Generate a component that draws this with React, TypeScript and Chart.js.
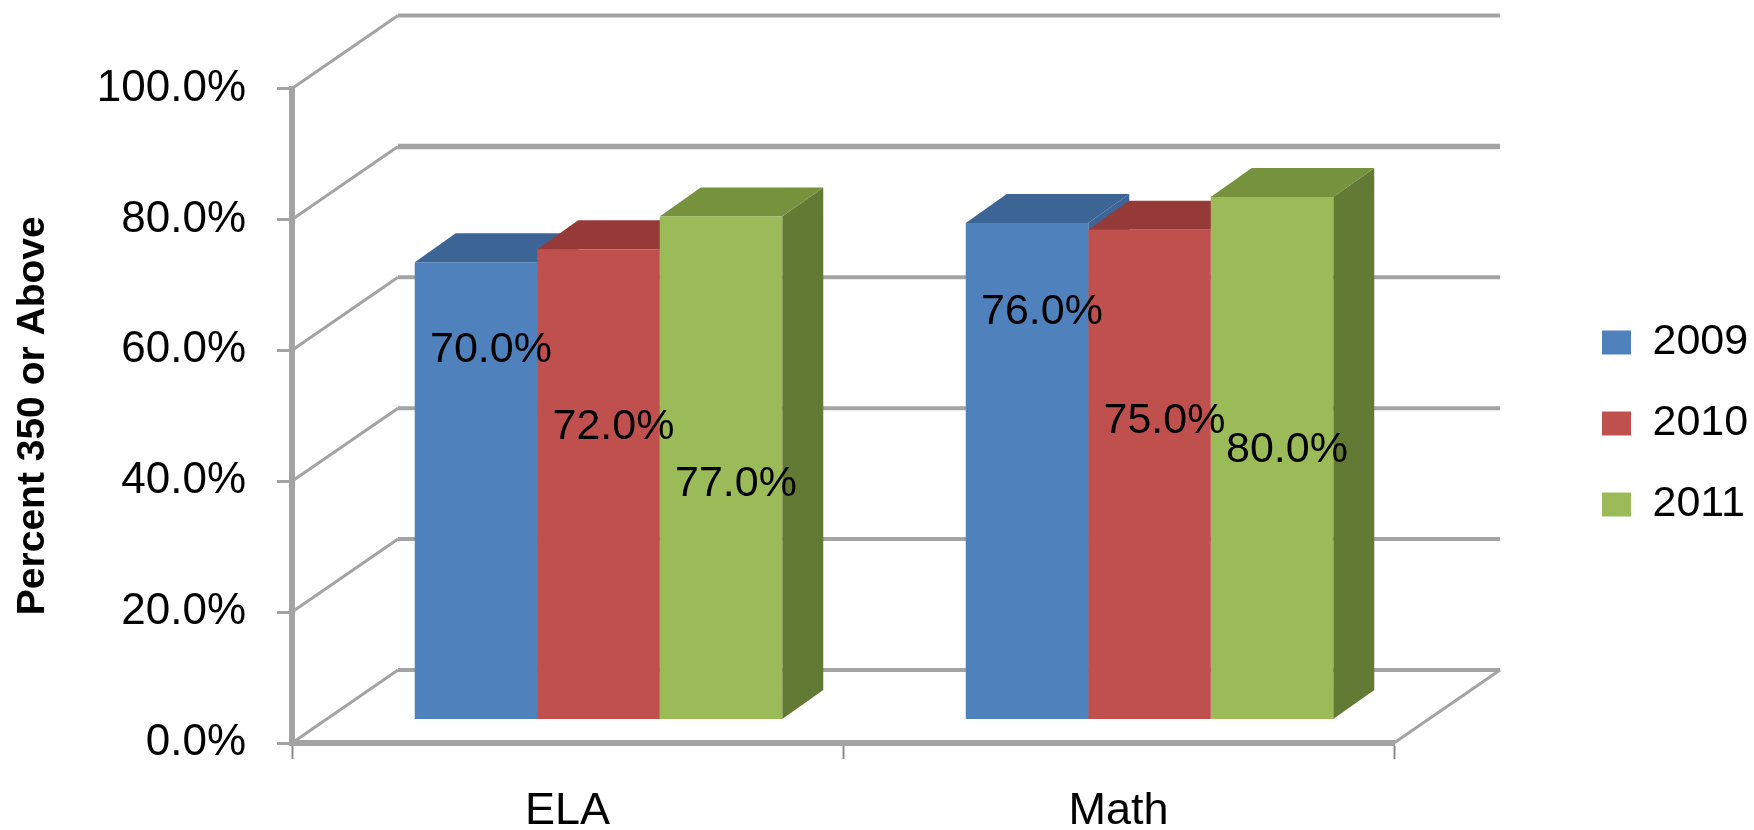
import React, { useEffect, useRef } from "react";
import { Chart, registerables } from "chart.js";

Chart.register(...registerables);

const categories = ["ELA", "Math"];
const seriesNames = ["2009", "2010", "2011"];
const values2009 = [70, 76];
const values2010 = [72, 75];
const values2011 = [77, 80];
const yTickStep = 20;

const FONT = "'Liberation Sans', Arial, sans-serif";
const GRID = "#a3a3a3";

const faceColors = [
  { top: "#3c6596", side: "#3c6596" },
  { top: "#963a38", side: "#963a38" },
  { top: "#76923c", side: "#637a35" },
];

const bar3d = {
  id: "bar3d",
  afterLayout(chart: any) {
    const o = chart.options.plugins.bar3d;
    const lg = chart.legend;
    if (lg) {
      lg.left = o.legendLeft;
      lg.right = chart.width;
      lg.width = lg.right - lg.left;
      lg.top = o.legendTop;
      lg.bottom = chart.height;
      lg.height = lg.bottom - lg.top;
    }
  },
  beforeDatasetsDraw(chart: any) {
    const o = chart.options.plugins.bar3d;
    const { ctx, scales, chartArea } = chart;
    const left = chartArea.left;
    const right = chartArea.right;
    const wallX = left + o.wallDx;
    const wallEnd = right + o.wallDx;

    // back wall and side wall gridlines, taken from the value axis ticks
    ctx.save();
    ctx.strokeStyle = GRID;
    ctx.lineCap = "butt";
    scales.y.ticks.forEach((t: any) => {
      const y = scales.y.getPixelForValue(t.value);
      ctx.lineWidth = 3;
      ctx.beginPath();
      ctx.moveTo(left, y);
      ctx.lineTo(wallX, y + o.wallDy);
      ctx.stroke();
      ctx.lineWidth = t.value === 80 ? 5.5 : 4;
      ctx.beginPath();
      ctx.moveTo(wallX, y + o.wallDy);
      ctx.lineTo(wallEnd, y + o.wallDy);
      ctx.stroke();
    });
    // floor edge
    const y0 = scales.y.getPixelForValue(0);
    ctx.lineWidth = 3;
    ctx.beginPath();
    ctx.moveTo(right, y0);
    ctx.lineTo(wallEnd, y0 + o.wallDy);
    ctx.stroke();
    ctx.restore();

    // everything that belongs to the bars sits further back in the 3D box
    ctx.save();
    ctx.translate(o.barShiftX, 0);
    chart.data.datasets.forEach((_: any, di: number) => {
      const meta = chart.getDatasetMeta(di);
      meta.data.forEach((bar: any) => {
        const x0 = bar.x - bar.width / 2;
        const x1 = bar.x + bar.width / 2;
        const yt = bar.y;
        const yb = bar.base;
        ctx.fillStyle = faceColors[di].side;
        ctx.beginPath();
        ctx.moveTo(x1, yt);
        ctx.lineTo(x1 + o.barDx, yt + o.barDy);
        ctx.lineTo(x1 + o.barDx, yb + o.barDy);
        ctx.lineTo(x1, yb);
        ctx.closePath();
        ctx.fill();
        ctx.fillStyle = faceColors[di].top;
        ctx.beginPath();
        ctx.moveTo(x0, yt);
        ctx.lineTo(x0 + o.barDx, yt + o.barDy);
        ctx.lineTo(x1 + o.barDx, yt + o.barDy);
        ctx.lineTo(x1, yt);
        ctx.closePath();
        ctx.fill();
      });
    });
  },
  afterDatasetsDraw(chart: any) {
    const o = chart.options.plugins.bar3d;
    const { ctx, scales } = chart;
    ctx.restore();
    ctx.save();
    ctx.translate(o.barShiftX, 0);
    ctx.fillStyle = "#000";
    ctx.font = `${o.labelSize}px ${FONT}`;
    ctx.textAlign = "center";
    ctx.textBaseline = "middle";
    chart.data.datasets.forEach((ds: any, di: number) => {
      chart.getDatasetMeta(di).data.forEach((bar: any, i: number) => {
        const y = scales.yBars.getPixelForValue(o.labelLevels[di][i]);
        ctx.fillText(`${ds.data[i].toFixed(1)}%`, bar.x + o.labelDx, y);
      });
    });
    ctx.restore();
  },
};

export default function App() {
  const ref = useRef<HTMLCanvasElement>(null);
  useEffect(() => {
    document.body.style.margin = "0";
    document.body.style.background = "#fff";
    const colors = ["#4f81bd", "#c0504d", "#9bbb59"];
    const series = [values2009, values2010, values2011];
    const chart = new Chart(ref.current as HTMLCanvasElement, {
      type: "bar",
      data: {
        labels: categories,
        datasets: series.map((data, i) => ({
          label: seriesNames[i],
          data,
          backgroundColor: colors[i],
          yAxisID: "yBars",
          categoryPercentage: 0.667,
          barPercentage: 1,
          clip: false as any,
        })),
      },
      plugins: [bar3d as any],
      options: {
        responsive: false,
        animation: false,
        devicePixelRatio: 1,
        layout: { padding: { top: 88.5, left: 0, right: 260, bottom: 0 } },
        plugins: {
          tooltip: { enabled: false },
          legend: {
            position: "right",
            align: "start",
            maxWidth: 100,
            labels: {
              boxWidth: 29,
              boxHeight: 24,
              padding: 38,
              color: "#000",
              font: { family: FONT, size: 43 },
            },
          },
          bar3d: {
            wallDx: 106,
            wallDy: -73,
            barShiftX: 31,
            barDx: 41,
            barDy: -29,
            labelDx: 15,
            labelSize: 43,
            labelLevels: [
              [56.5, 62.3],
              [44.7, 45.7],
              [36, 41.2],
            ],
            legendLeft: 1564,
            legendTop: 283,
          },
        } as any,
        scales: {
          x: {
            offset: true,
            grid: {
              drawOnChartArea: false,
              tickLength: 16,
              tickWidth: 2,
              tickColor: "#8c8c8c",
              offset: true,
            },
            border: { color: GRID, width: 6 },
            ticks: {
              color: "#000",
              padding: 26,
              font: { family: FONT, size: 45 },
            },
            afterFit(scale: any) {
              scale.height = 87;
            },
          },
          y: {
            min: 0,
            max: 100,
            position: "left",
            grid: {
              drawOnChartArea: false,
              tickLength: 15,
              tickWidth: 3,
              tickColor: GRID,
            },
            border: { color: GRID, width: 6 },
            ticks: {
              stepSize: yTickStep,
              color: "#000",
              padding: 31,
              font: { family: FONT, size: 44 },
              callback: (v: any) => `${Number(v).toFixed(1)}%`,
            },
            title: {
              display: true,
              text: "Percent 350 or Above",
              color: "#000",
              padding: { top: 10, bottom: 0 },
              font: { family: FONT, size: 39, weight: "bold" },
            },
            afterFit(scale: any) {
              scale.width = 292;
            },
          },
          yBars: {
            display: false,
            min: -3.675,
            max: 96.63,
          },
        },
      },
    });
    return () => chart.destroy();
  }, []);
  return (
    <div style={{ position: "absolute", left: 0, top: 0, width: 1754, height: 830, background: "#fff" }}>
      <canvas ref={ref} width={1754} height={830} style={{ display: "block" }} />
    </div>
  );
}
